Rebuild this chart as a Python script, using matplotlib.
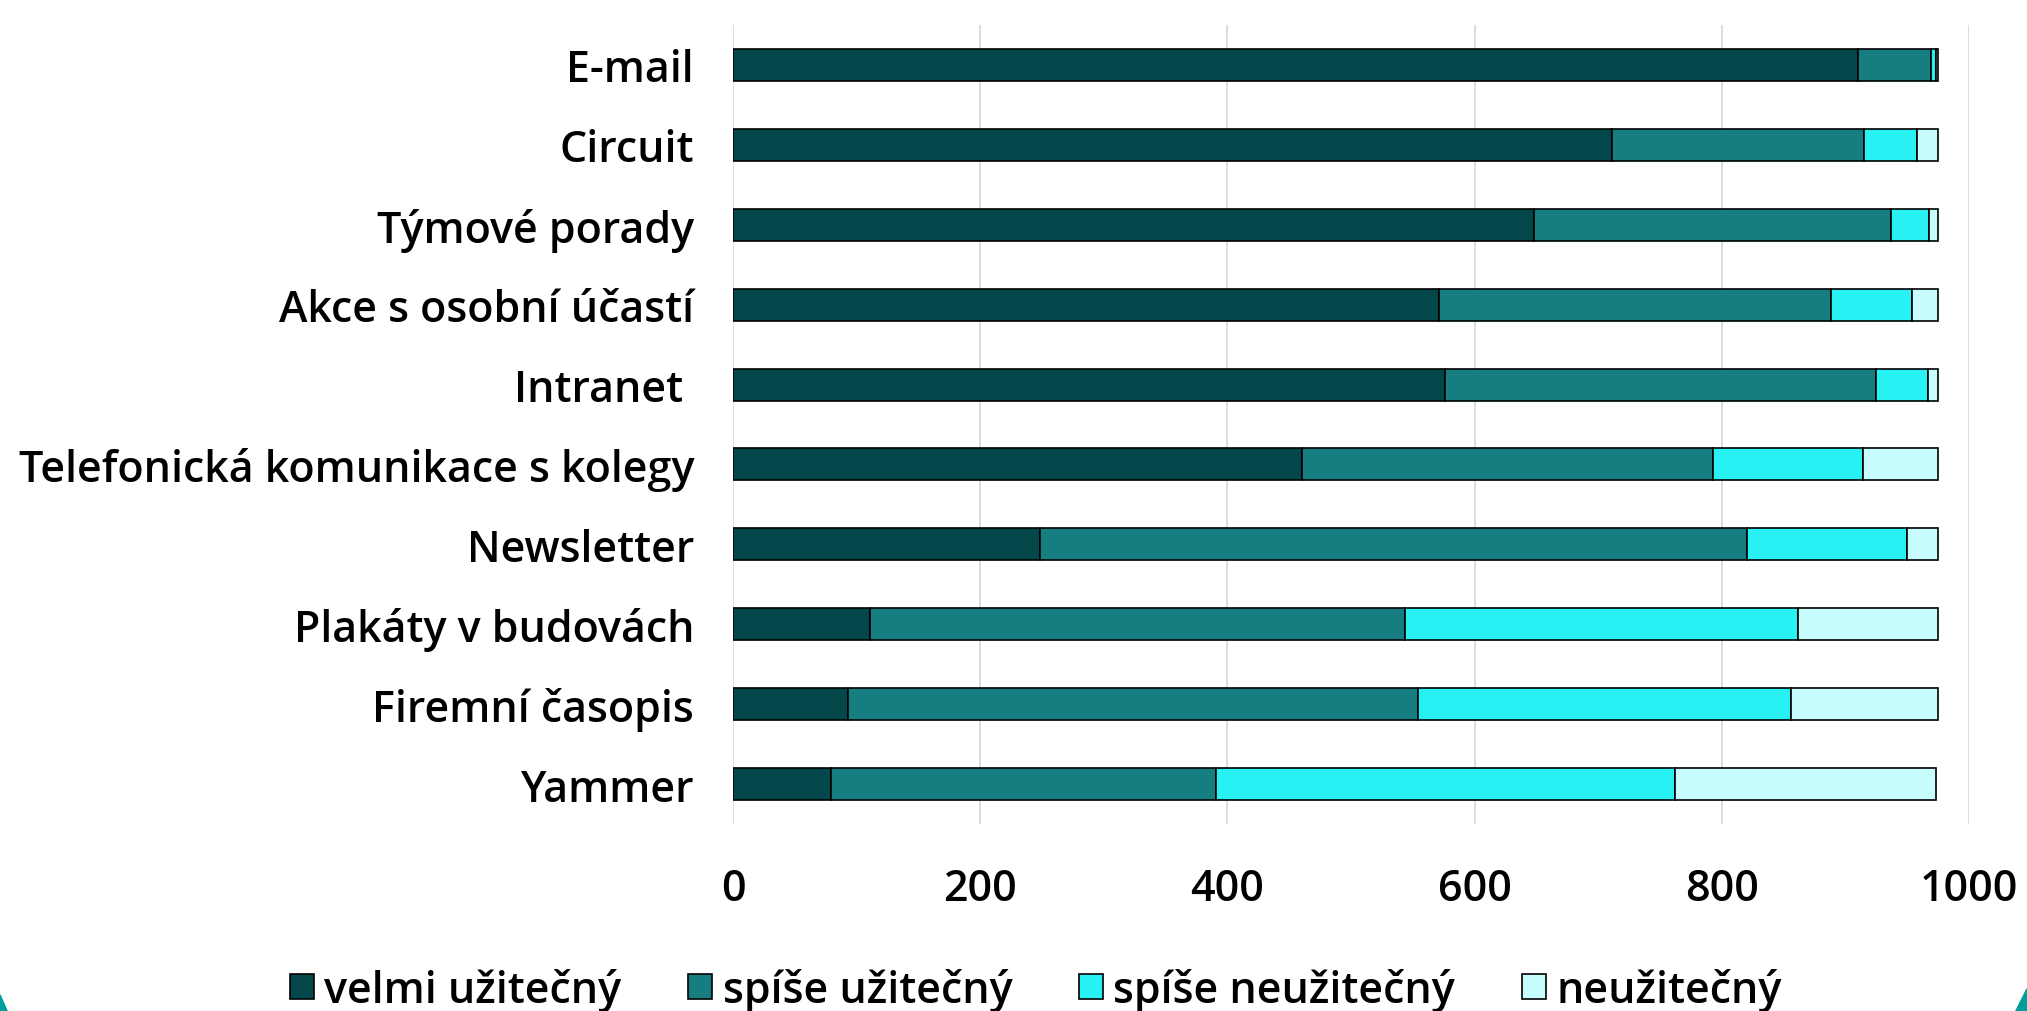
import matplotlib.pyplot as plt
from matplotlib.patches import Polygon
import numpy as np

# Categories (top to bottom as shown)
categories = ['E-mail', 'Circuit', 'Týmové porady', 'Akce s osobní účastí', 'Intranet ',
              'Telefonická komunikace s kolegy', 'Newsletter', 'Plakáty v budovách',
              'Firemní časopis', 'Yammer']

velmi_uzitecny = [910, 711, 648, 571, 576, 460, 248, 111, 93, 79]
spise_uzitecny = [59, 204, 289, 317, 349, 333, 572, 433, 461, 312]
spise_neuzitecny = [4, 43, 31, 66, 42, 121, 130, 318, 302, 371]
neuzitecny = [2, 17, 7, 21, 8, 61, 25, 113, 119, 211]

series_names = ['velmi užitečný', 'spíše užitečný', 'spíše neužitečný', 'neužitečný']
colors = ['#03474A', '#167E81', '#27F1F3', '#C8FDFD']

x_ticks = [0, 200, 400, 600, 800, 1000]

plt.rcParams['font.family'] = ['Open Sans', 'DejaVu Sans']
FS = 31

fig = plt.figure(figsize=(20.27, 10.12), dpi=100)
ax = fig.add_axes([0.3616, 0.1848, 0.6098, 0.7895])

y = np.arange(len(categories))
left = np.zeros(len(categories))
for values, name, color in zip([velmi_uzitecny, spise_uzitecny, spise_neuzitecny, neuzitecny],
                               series_names, colors):
    ax.barh(y, values, left=left, height=0.4, color=color, edgecolor='black',
            linewidth=1.2, label=name, zorder=3)
    left = left + np.array(values)

ax.set_ylim(len(categories) - 0.5, -0.5)
ax.set_xlim(0, 1000)
ax.set_xticks(x_ticks)
ax.set_yticks(y)
ax.set_yticklabels(categories)

for spine in ax.spines.values():
    spine.set_visible(False)

ax.xaxis.grid(True, color='#D9D9D9', linewidth=1.3, zorder=0)
ax.yaxis.grid(False)
ax.set_axisbelow(True)

ax.tick_params(axis='y', length=0, pad=28, labelsize=FS)
ax.tick_params(axis='x', length=0, pad=31, labelsize=FS)
for lbl in ax.get_xticklabels() + ax.get_yticklabels():
    lbl.set_fontweight('semibold')

fig.legend(loc='center', bbox_to_anchor=(0.511, 0.021), ncol=4, frameon=False,
           prop={'size': FS, 'weight': 'semibold'}, handlelength=0.55,
           handleheight=0.55, handletextpad=0.25, columnspacing=1.55,
           borderaxespad=0)

# teal frame corners peeking in at the bottom
fig.patches.append(Polygon([[0, 0], [0, 0.016], [0.0035, 0]], closed=True,
                           transform=fig.transFigure, color='#009E9A'))
fig.patches.append(Polygon([[1, 0], [1, 0.022], [0.9945, 0]], closed=True,
                           transform=fig.transFigure, color='#009E9A'))

fig.savefig('out.png', dpi=100)
plt.close(fig)
